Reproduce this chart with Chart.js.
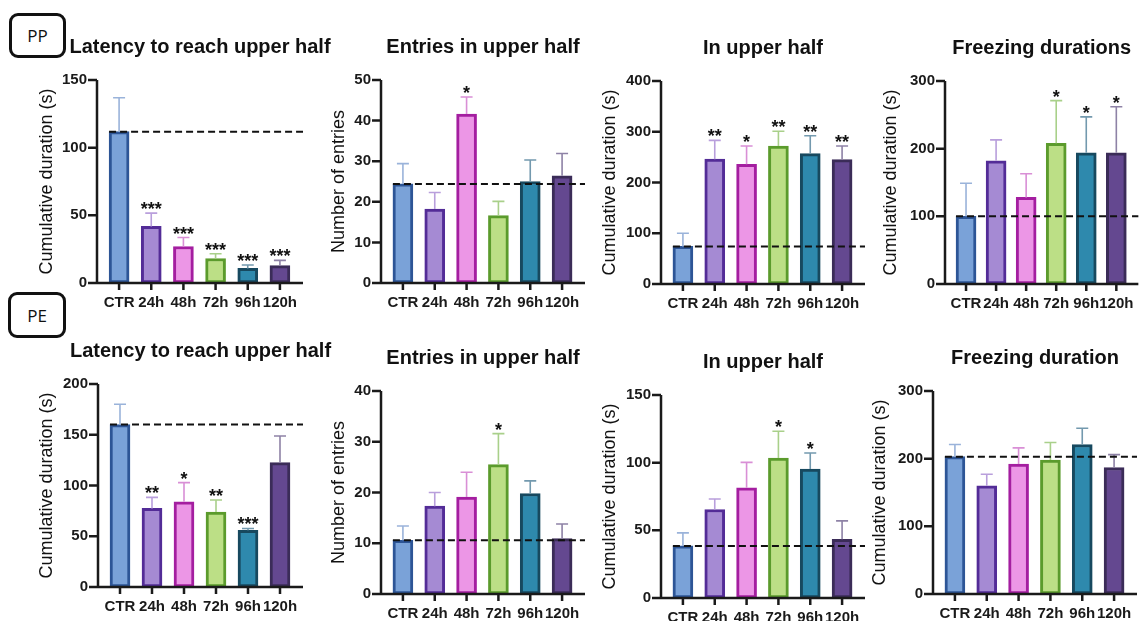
<!DOCTYPE html>
<html lang="en">
<head>
<meta charset="UTF-8">
<title>Behaviour after exposure - PP / PE</title>
<script src="https://cdn.jsdelivr.net/npm/chart.js"></script>
<style>
  body { margin: 0; background: #fff; width: 1145px; height: 621px; overflow: hidden; position: relative; }
  canvas { position: absolute; }
  .tag {
    position: absolute; box-sizing: border-box;
    border: 3px solid #111; border-radius: 9px;
    font-family: "Open Sans", sans-serif; font-size: 17px; color: #111;
    display: flex; align-items: center; justify-content: center;
  }
</style>
</head>
<body>
<div class="tag" style="left:9px;top:13px;width:57px;height:45px">PP</div>
<div class="tag" style="left:8px;top:292px;width:58px;height:46px">PE</div>

<script>
const groups = ['CTR', '24h', '48h', '72h', '96h', '120h'];

// PP row (mean, upper error, significance)
const ppLatencyMean  = [111.8, 41.8, 27.0, 18.1, 10.8, 12.8];
const ppLatencyErr   = [25.1, 9.8, 6.6, 3.5, 2.5, 3.9];
const ppLatencyStars = ['', '***', '***', '***', '***', '***'];

const ppEntriesMean  = [24.4, 18.2, 41.6, 16.6, 25.0, 26.4];
const ppEntriesErr   = [5.0, 4.1, 4.2, 3.5, 5.3, 5.5];
const ppEntriesStars = ['', '', '*', '', '', ''];

const ppUpperMean  = [74, 246, 236, 272, 257, 245];
const ppUpperErr   = [26, 37, 36, 29, 35, 27];
const ppUpperStars = ['', '**', '*', '**', '**', '**'];

const ppFreezeMean  = [100, 182, 128, 208, 194, 194];
const ppFreezeErr   = [49, 31, 35, 63, 53, 68];
const ppFreezeStars = ['', '', '', '*', '*', '*'];

// PE row
const peLatencyMean  = [160, 77.4, 84.0, 73.9, 55.8, 122.5];
const peLatencyErr   = [20, 10.9, 18.8, 11.8, 1.9, 26.3];
const peLatencyStars = ['', '**', '*', '**', '***', ''];

const peEntriesMean  = [10.6, 17.3, 19.1, 25.5, 19.8, 10.9];
const peEntriesErr   = [2.8, 2.7, 4.9, 6.1, 2.5, 2.9];
const peEntriesStars = ['', '', '', '*', '', ''];

const peUpperMean  = [38.5, 65.4, 81.4, 103.4, 95.3, 43.4];
const peUpperErr   = [9.6, 7.7, 18.8, 19.8, 11.8, 13.6];
const peUpperStars = ['', '', '', '*', '*', ''];

const peFreezeMean  = [203, 160, 192, 198, 221, 187];
const peFreezeErr   = [18, 17, 24, 26, 24, 19];
const peFreezeStars = ['', '', '', '', '', ''];

const fills   = ['#7aa2d8', '#a58ad3', '#ec96e6', '#bcdf86', '#2e89ad', '#644890'];
const borders = ['#2d5596', '#532c97', '#a41ea0', '#5b9b2c', '#17495f', '#3b2c58'];
const errCols = ['#9ab3da', '#b99fdc', '#d98fd6', '#a9d08a', '#7399ae', '#8e82a6'];

const FONT = "'Liberation Sans', Arial, sans-serif";
Chart.defaults.font.family = FONT;
Chart.defaults.color = '#1a1a1a';

const panels = [
  { title: 'Latency to reach upper half', yTitle: 'Cumulative duration (s)', max: 150, step: 50, mean: ppLatencyMean, err: ppLatencyErr, stars: ppLatencyStars },
  { title: 'Entries in upper half', yTitle: 'Number of entries', max: 50, step: 10, mean: ppEntriesMean, err: ppEntriesErr, stars: ppEntriesStars },
  { title: 'In upper half', yTitle: 'Cumulative duration (s)', max: 400, step: 100, mean: ppUpperMean, err: ppUpperErr, stars: ppUpperStars },
  { title: 'Freezing durations', yTitle: 'Cumulative duration (s)', max: 300, step: 100, mean: ppFreezeMean, err: ppFreezeErr, stars: ppFreezeStars },
  { title: 'Latency to reach upper half', yTitle: 'Cumulative duration (s)', max: 200, step: 50, mean: peLatencyMean, err: peLatencyErr, stars: peLatencyStars },
  { title: 'Entries in upper half', yTitle: 'Number of entries', max: 40, step: 10, mean: peEntriesMean, err: peEntriesErr, stars: peEntriesStars },
  { title: 'In upper half', yTitle: 'Cumulative duration (s)', max: 150, step: 50, mean: peUpperMean, err: peUpperErr, stars: peUpperStars },
  { title: 'Freezing duration', yTitle: 'Cumulative duration (s)', max: 300, step: 100, mean: peFreezeMean, err: peFreezeErr, stars: peFreezeStars }
];

// where each panel's axes sit on the page (A = y axis, R = x axis end, T/B = top/bottom of value range, yt = y title centre)
const frames = [
  { A: 97,  R: 303,  T: 80,  B: 283, yt: 46 },
  { A: 381, R: 585,  T: 80,  B: 283, yt: 338 },
  { A: 661, R: 865,  T: 81,  B: 284, yt: 609 },
  { A: 945, R: 1145, T: 81,  B: 284, yt: 890 },
  { A: 98,  R: 303,  T: 384, B: 587, yt: 46 },
  { A: 381, R: 585,  T: 391, B: 594, yt: 338 },
  { A: 661, R: 865,  T: 395, B: 598, yt: 609 },
  { A: 933, R: 1137, T: 391, B: 594, yt: 879 }
];
const GAP_L = 6, GAP_R = 7;

// error bars, reference line, stars, axes, title
const decor = {
  id: 'decor',
  afterDatasetsDraw(chart, args, o) {
    const { ctx, chartArea: ca, scales: { x, y } } = chart;
    const A = ca.left - GAP_L, R = ca.right + GAP_R;
    const y0 = y.getPixelForValue(0), yMax = y.getPixelForValue(y.max);
    ctx.save();

    o.mean.forEach((m, i) => {
      const px = x.getPixelForValue(i);
      const pm = y.getPixelForValue(m), pe = y.getPixelForValue(m + o.err[i]);
      ctx.strokeStyle = errCols[i];
      ctx.lineWidth = 1.6;
      ctx.beginPath();
      ctx.moveTo(px, pm); ctx.lineTo(px, pe);
      ctx.moveTo(px - 6, pe); ctx.lineTo(px + 6, pe);
      ctx.stroke();
      if (o.stars[i]) {
        ctx.fillStyle = '#111';
        ctx.font = 'bold 18px ' + FONT;
        ctx.textAlign = 'center';
        ctx.textBaseline = 'alphabetic';
        ctx.fillText(o.stars[i], px, pe + 2);
      }
    });

    // dashed line at the control mean
    const ry = y.getPixelForValue(o.mean[0]);
    ctx.strokeStyle = '#111';
    ctx.lineWidth = 2;
    ctx.setLineDash([7, 4]);
    ctx.beginPath();
    ctx.moveTo(x.getPixelForValue(0) - 10, ry);
    ctx.lineTo(R, ry);
    ctx.stroke();
    ctx.setLineDash([]);

    // axes
    ctx.strokeStyle = '#1a1a1a';
    ctx.lineWidth = 2.5;
    ctx.beginPath();
    ctx.moveTo(A, yMax); ctx.lineTo(A, y0);
    ctx.moveTo(A, y0); ctx.lineTo(R, y0);
    y.ticks.forEach(t => {
      const py = y.getPixelForValue(t.value);
      ctx.moveTo(A - 9, py); ctx.lineTo(A, py);
    });
    groups.forEach((g, i) => {
      const px = x.getPixelForValue(i);
      ctx.moveTo(px, y0); ctx.lineTo(px, y0 + 7);
    });
    ctx.stroke();

    ctx.fillStyle = '#111';
    ctx.font = 'bold 20px ' + FONT;
    ctx.textAlign = 'center';
    ctx.textBaseline = 'middle';
    ctx.fillText(o.title, (A + R) / 2, ca.top - 33);
    ctx.restore();
  }
};

panels.forEach((p, k) => {
  const f = frames[k];
  const areaL = f.A + GAP_L, areaR = f.R - GAP_R;
  const left = f.yt - 10, top = f.T - 62;
  const right = Math.min(f.R + 34, 1145), bottom = f.B + 38;

  const cv = document.createElement('canvas');
  cv.width = right - left;
  cv.height = bottom - top;
  cv.style.left = left + 'px';
  cv.style.top = top + 'px';
  document.body.appendChild(cv);

  new Chart(cv.getContext('2d'), {
    type: 'bar',
    data: {
      labels: groups,
      datasets: [{
        data: p.mean,
        backgroundColor: fills,
        borderColor: borders,
        borderWidth: 3,
        borderSkipped: false,
        barThickness: 20
      }]
    },
    options: {
      responsive: false,
      animation: false,
      devicePixelRatio: 1,
      layout: { padding: { top: f.T - top, right: right - areaR, left: 0, bottom: 0 } },
      plugins: {
        legend: { display: false },
        tooltip: { enabled: false },
        decor: p
      },
      scales: {
        x: {
          grid: { display: false, drawTicks: false },
          border: { display: false },
          ticks: { font: { size: 15, weight: 'bold' }, padding: 11, autoSkip: false, maxRotation: 0 },
          afterFit: s => { s.height = bottom - f.B; }
        },
        y: {
          min: 0,
          max: p.max,
          grid: { display: false, drawTicks: false },
          border: { display: false },
          ticks: { stepSize: p.step, font: { size: 15, weight: 'bold' }, padding: GAP_L + 10 },
          title: { display: true, text: p.yTitle, font: { size: 18 }, padding: 0, color: '#111' },
          afterFit: s => { s.width = areaL - left; }
        }
      }
    },
    plugins: [decor]
  });
});
</script>
</body>
</html>
